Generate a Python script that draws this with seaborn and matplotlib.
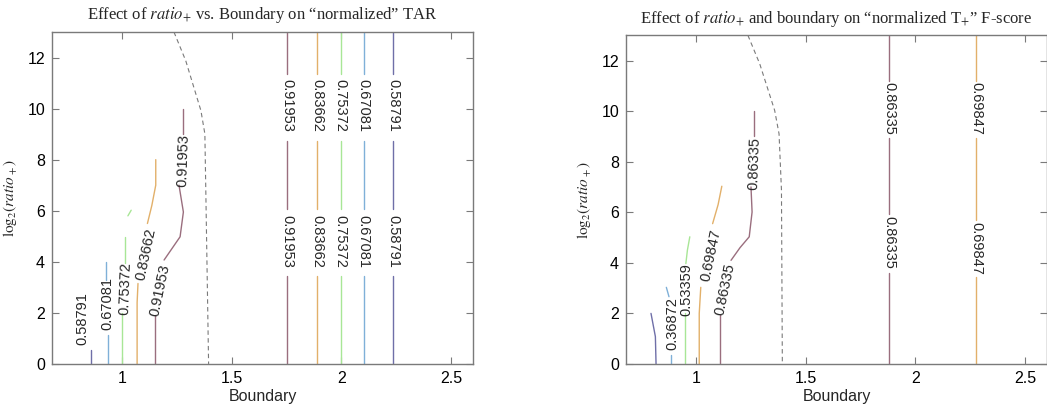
import matplotlib
matplotlib.use("Agg")
import matplotlib.pyplot as plt
import seaborn as sns

# ---------------- data ----------------
# Left panel: "normalized" TAR contour levels
tar_levels = [0.58791, 0.67081, 0.75372, 0.83662, 0.91953]
# visible contour segments near the left (x list, y list) per level
tar_left_0p58791 = [([0.856, 0.856], [0.0, 0.55])]
tar_left_0p67081 = [([0.937, 0.937], [0.0, 1.13]), ([0.924, 0.924], [3.3, 4.0])]
tar_left_0p75372 = [([1.0, 1.0], [0.0, 2.0]), ([1.012, 1.012], [3.94, 4.98]),
                    ([1.026, 1.041], [5.8, 6.02])]
tar_left_0p83662 = [([1.068, 1.068, 1.072], [0.0, 2.4, 3.15]),
                    ([1.115, 1.135, 1.153, 1.153], [5.5, 6.2, 7.0, 8.0])]
tar_left_0p91953 = [([1.149, 1.149], [0.0, 1.92]),
                    ([1.191, 1.264, 1.279, 1.259], [4.07, 4.98, 5.95, 7.0]),
                    ([1.275, 1.275], [9.0, 10.0])]
# vertical contours on the right part (x position per level, same order as tar_levels)
tar_vertical_x = [2.237, 2.102, 1.997, 1.889, 1.753]
tar_vertical_spans = [(0.0, 3.45), (6.05, 8.75), (11.37, 13.0)]
tar_vertical_label_y = [10.12, 4.78]
# cluster labels (level, x, y, rotation)
tar_cluster_labels = [(0.58791, 0.820, 1.77, 90), (0.67081, 0.931, 2.38, 90),
                      (0.75372, 1.015, 2.96, 88), (0.83662, 1.110, 4.30, 78),
                      (0.91953, 1.172, 2.87, 78), (0.91953, 1.279, 7.97, 88)]
tar_boundary_x = [1.236, 1.290, 1.359, 1.377, 1.382, 1.394]
tar_boundary_y = [13.0, 11.87, 9.92, 9.01, 6.41, 0.0]

# Right panel: "normalized T+" F-score contour levels
fs_levels = [0.2, 0.36872, 0.53359, 0.69847, 0.86335]
fs_left_0p2 = [([0.794, 0.814, 0.817], [2.0, 1.08, 0.0])]
fs_left_0p36872 = [([0.887, 0.887], [0.0, 0.35]), ([0.876, 0.864], [2.66, 3.03])]
fs_left_0p53359 = [([0.950, 0.950], [0.0, 2.0]), ([0.953, 0.960, 0.971], [3.97, 4.5, 5.03])]
fs_left_0p69847 = [([1.014, 1.014, 1.021], [0.0, 2.0, 3.03]),
                   ([1.075, 1.10, 1.117], [5.55, 6.3, 7.03])]
fs_left_0p86335 = [([1.108, 1.108], [0.0, 1.93]),
                   ([1.159, 1.20, 1.242, 1.255, 1.25], [4.1, 4.6, 5.03, 6.01, 7.0]),
                   ([1.264, 1.264], [9.0, 10.0])]
fs_vertical_levels = [0.86335, 0.69847]
fs_vertical_x = [1.881, 2.276]
fs_vertical_spans = [[(0.0, 3.6), (5.95, 8.95), (11.2, 13.0)],
                     [(0.0, 3.45), (5.7, 8.95), (11.2, 13.0)]]
fs_vertical_label_y = [[10.09, 4.79], [10.09, 4.57]]
fs_cluster_labels = [(0.36872, 0.893, 1.58, 90), (0.53359, 0.957, 2.95, 90),
                     (0.69847, 1.066, 4.30, 78), (0.86335, 1.133, 2.95, 78),
                     (0.86335, 1.267, 7.92, 88)]
fs_boundary_x = [1.236, 1.290, 1.358, 1.378, 1.389, 1.393]
fs_boundary_y = [13.0, 11.87, 10.03, 9.1, 6.87, 0.0]

x_ticks = [1, 1.5, 2, 2.5]
x_tick_labels = ["1", "1.5", "2", "2.5"]
y_ticks = [0, 2, 4, 6, 8, 10, 12]

# ---------------- style ----------------
sns.set_style("ticks")
plt.rcParams["font.family"] = ["Liberation Sans", "DejaVu Sans"]
plt.rcParams["mathtext.fontset"] = "stix"

colors = ["#6f6fa8", "#7fb0d8", "#a8e696", "#e2b06a", "#9a6e7e"]
tar_color = dict(zip(tar_levels, colors))
fs_color = dict(zip(fs_levels, colors))
frame_c = "#7a7a7a"
lw = 1.0

fig = plt.figure(figsize=(10.47, 4.08), dpi=100)
axL = fig.add_axes([0.0497, 0.108, 0.4021, 0.8136])
axR = fig.add_axes([0.5979, 0.108, 0.4021, 0.8054])


def seg_plot(ax, xs, ys, color, **kw):
    sns.lineplot(x=xs, y=ys, sort=False, estimator=None, color=color,
                 lw=kw.pop("lw", lw), ax=ax, legend=False, **kw)


def style_axes(ax, title):
    ax.set_xlim(0.68, 2.6)
    ax.set_ylim(0, 13)
    ax.set_xticks(x_ticks)
    ax.set_xticklabels(x_tick_labels)
    ax.set_yticks(y_ticks)
    ax.tick_params(direction="in", top=True, right=True, length=5, width=0.8,
                   color=frame_c, labelsize=11.5, labelcolor="black", pad=5)
    for s in ax.spines.values():
        s.set_visible(True)
        s.set_color(frame_c)
        s.set_linewidth(1.0)
    ax.set_xlabel("Boundary", fontsize=11.5, labelpad=2)
    ax.set_ylabel(r"$\mathrm{log}_2(\mathit{ratio}_+)$", fontsize=11,
                  family="Liberation Serif", labelpad=6)
    ax.set_title(title, family="Liberation Serif", fontsize=12, pad=9)


def label(ax, txt, x, y, rot):
    ax.text(x, y, txt, rotation=rot, ha="center", va="center",
            fontsize=10.5, rotation_mode="anchor")


# ---- left panel ----
tar_left = [tar_left_0p58791, tar_left_0p67081, tar_left_0p75372,
            tar_left_0p83662, tar_left_0p91953]
for lvl, segs in zip(tar_levels, tar_left):
    for xs, ys in segs:
        seg_plot(axL, xs, ys, tar_color[lvl])
for lvl, xv in zip(tar_levels, tar_vertical_x):
    for y0, y1 in tar_vertical_spans:
        seg_plot(axL, [xv, xv], [y0, y1], tar_color[lvl])
    for ly in tar_vertical_label_y:
        label(axL, f"{lvl:.5f}", xv, ly, 270)
for lvl, x, y, r in tar_cluster_labels:
    label(axL, f"{lvl:.5f}", x, y, r)
seg_plot(axL, tar_boundary_x, tar_boundary_y, "#7a7a7a", lw=0.8,
         linestyle=(0, (4, 3)))
style_axes(axL, r"Effect of $\mathit{ratio}_{+}$ vs. Boundary on “normalized” TAR")

# ---- right panel ----
fs_left = [fs_left_0p2, fs_left_0p36872, fs_left_0p53359,
           fs_left_0p69847, fs_left_0p86335]
for lvl, segs in zip(fs_levels, fs_left):
    for xs, ys in segs:
        seg_plot(axR, xs, ys, fs_color[lvl])
for lvl, xv, spans, lys in zip(fs_vertical_levels, fs_vertical_x,
                               fs_vertical_spans, fs_vertical_label_y):
    for y0, y1 in spans:
        seg_plot(axR, [xv, xv], [y0, y1], fs_color[lvl])
    for ly in lys:
        label(axR, f"{lvl:.5f}", xv, ly, 270)
for lvl, x, y, r in fs_cluster_labels:
    label(axR, f"{lvl:.5f}", x, y, r)
seg_plot(axR, fs_boundary_x, fs_boundary_y, "#7a7a7a", lw=0.8,
         linestyle=(0, (4, 3)))
style_axes(axR, r"Effect of $\mathit{ratio}_{+}$ and boundary on “normalized T$_{+}$” F-score")

fig.savefig("out.png", dpi=100)
